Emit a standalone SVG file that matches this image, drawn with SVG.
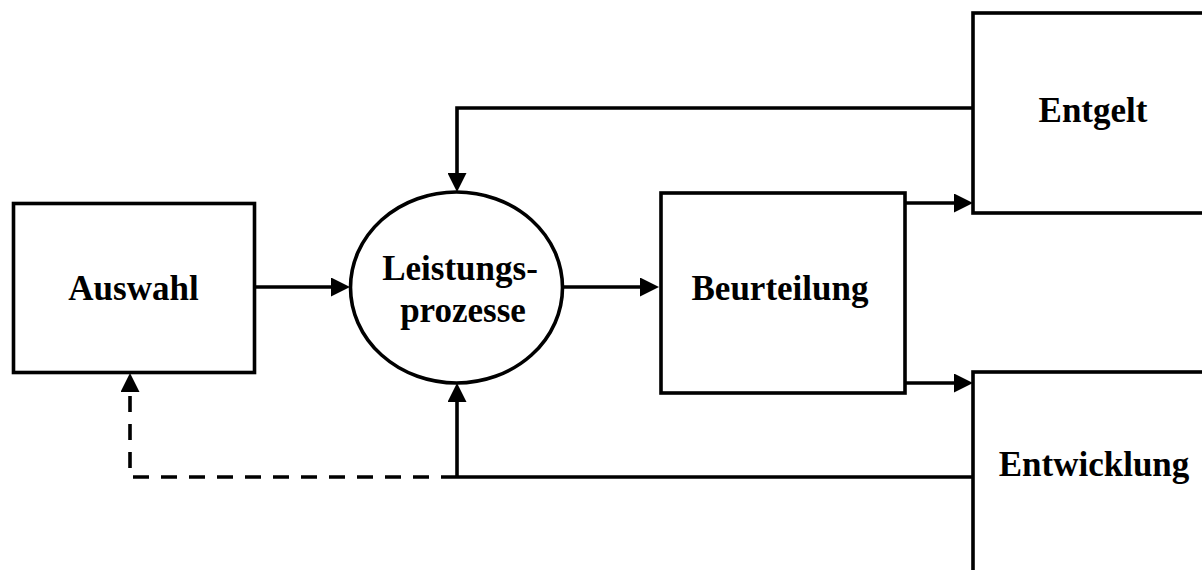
<svg xmlns="http://www.w3.org/2000/svg" width="1202" height="570" viewBox="0 0 1202 570">
<style>
.box{fill:#fff;stroke:#000;stroke-width:3.6}
.lbl{font-family:"Liberation Serif","Times New Roman",serif;font-weight:bold;font-size:35px;text-anchor:middle;fill:#000}
.ln{fill:none;stroke:#000;stroke-width:3.6}
.dash{stroke-dasharray:16 12}
</style>
<defs>
<marker id="ah" markerUnits="userSpaceOnUse" markerWidth="19" markerHeight="19" refX="2" refY="9.5" orient="auto" viewBox="0 0 19 19">
<path d="M0,0 L19,9.5 L0,19 Z" fill="#000"/>
</marker>
</defs>
<rect width="1202" height="570" fill="#fff"/>
<g id="connectors">
<path class="ln" d="M256,287 H333" marker-end="url(#ah)"/>
<path class="ln" d="M563,287 H642" marker-end="url(#ah)"/>
<path class="ln" d="M905,203 H956" marker-end="url(#ah)"/>
<path class="ln" d="M905,383 H956" marker-end="url(#ah)"/>
<path class="ln" d="M973,108 H457 V175" marker-end="url(#ah)"/>
<path class="ln" d="M973,477 H441"/>
<path class="ln" d="M457,477 V400" marker-end="url(#ah)"/>
<path class="ln dash" d="M429,477 H130 V390" marker-end="url(#ah)"/>
</g>
<g id="auswahl">
<rect class="box" x="13.5" y="203.5" width="241" height="169"/>
<text class="lbl" x="133.5" y="300">Auswahl</text>
</g>
<g id="leistungsprozesse">
<ellipse class="box" cx="456.5" cy="287.5" rx="106" ry="95.5"/>
<text class="lbl" x="460" y="280">Leistungs-</text>
<text class="lbl" x="463" y="322">prozesse</text>
</g>
<g id="beurteilung">
<rect class="box" x="661" y="193" width="244" height="200"/>
<text class="lbl" x="780" y="300">Beurteilung</text>
</g>
<g id="entgelt">
<rect class="box" x="973" y="13" width="260" height="200"/>
<text class="lbl" x="1093" y="122">Entgelt</text>
</g>
<g id="entwicklung">
<rect class="box" x="973" y="372" width="260" height="230"/>
<text class="lbl" x="1094" y="476">Entwicklung</text>
</g>
</svg>
